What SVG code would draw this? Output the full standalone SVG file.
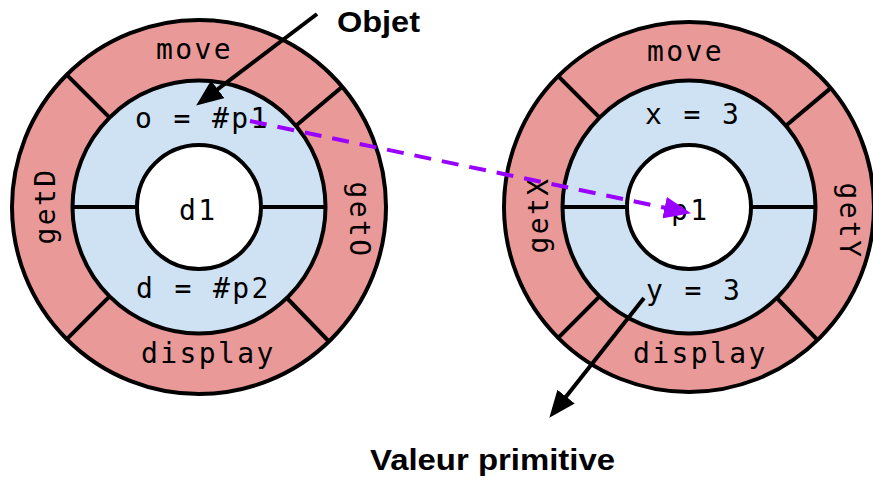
<svg xmlns="http://www.w3.org/2000/svg" width="873" height="481" viewBox="0 0 873 481">
  <style>
    .outer { fill: #ea9999; stroke: #000; stroke-width: 4; }
    .ring { fill: #cfe2f3; stroke: #000; stroke-width: 4; }
    .core { fill: #fff; stroke: #000; stroke-width: 4; }
    .div { stroke: #000; stroke-width: 4; fill: none; }
    .mono { font-family: "DejaVu Sans Mono", "Liberation Mono", monospace; font-size: 28px; letter-spacing: 2.4px; fill: #000; }
    .label { font-family: "Liberation Sans", Arial, sans-serif; font-weight: bold; font-size: 30px; fill: #000; }
    .arrow { stroke: #000; stroke-width: 4; fill: none; }
    .ref { stroke: #9900ff; stroke-width: 4; fill: none; stroke-dasharray: 17 11; }
  </style>
  <defs>
    <marker id="head" markerUnits="userSpaceOnUse" markerWidth="28" markerHeight="22" refX="4" refY="11" orient="auto">
      <path d="M0,0 L27,11 L0,22 z" fill="#000"/>
    </marker>
    <marker id="headPurple" markerUnits="userSpaceOnUse" markerWidth="28" markerHeight="22" refX="4" refY="11" orient="auto">
      <path d="M0,0 L27,11 L0,22 z" fill="#9900ff"/>
    </marker>
  </defs>

  <!-- object d1 -->
  <g id="d1">
    <circle class="outer" cx="199" cy="207" r="187"/>
    <circle class="ring" cx="199" cy="207" r="126.5"/>
    <circle class="core" cx="199" cy="207" r="62"/>
    <line class="div" x1="109.6" y1="117.6" x2="66.8" y2="74.8"/>
    <line class="div" x1="295.9" y1="125.7" x2="342.2" y2="86.8"/>
    <line class="div" x1="286.9" y1="298" x2="329" y2="341.5"/>
    <line class="div" x1="109.6" y1="296.4" x2="66.8" y2="339.2"/>
    <line class="div" x1="72.5" y1="207" x2="137" y2="207"/>
    <line class="div" x1="261" y1="207" x2="325.5" y2="207"/>
    <text class="mono" x="156" y="59">move</text>
    <text class="mono" x="135" y="128">o = #p1</text>
    <text class="mono" x="179" y="220">d1</text>
    <text class="mono" x="136" y="298">d = #p2</text>
    <text class="mono" x="141" y="363">display</text>
    <text class="mono" text-anchor="middle" transform="translate(55,206) rotate(-90)">getD</text>
    <text class="mono" text-anchor="middle" transform="translate(350,220) rotate(90)">getO</text>
  </g>

  <!-- object p1 -->
  <g id="p1">
    <circle class="outer" cx="689" cy="207" r="185"/>
    <circle class="ring" cx="689" cy="207" r="126.5"/>
    <circle class="core" cx="689" cy="207" r="62"/>
    <line class="div" x1="599.6" y1="117.6" x2="558.2" y2="76.2"/>
    <line class="div" x1="785.9" y1="125.7" x2="830.7" y2="88.1"/>
    <line class="div" x1="776.9" y1="298" x2="817.5" y2="340"/>
    <line class="div" x1="599.6" y1="296.4" x2="558.2" y2="337.8"/>
    <line class="div" x1="562.5" y1="207" x2="627" y2="207"/>
    <line class="div" x1="751" y1="207" x2="815.5" y2="207"/>
    <text class="mono" x="647" y="61">move</text>
    <text class="mono" x="645" y="124">x = 3</text>
    <text class="mono" x="671" y="220">p1</text>
    <text class="mono" x="646" y="300">y = 3</text>
    <text class="mono" x="633" y="363">display</text>
    <text class="mono" text-anchor="middle" transform="translate(548,215) rotate(-90)">getX</text>
    <text class="mono" text-anchor="middle" transform="translate(840,221) rotate(90)">getY</text>
  </g>

  <!-- captions -->
  <g id="caption-objet">
    <text class="label" x="337" y="32" textLength="83" lengthAdjust="spacingAndGlyphs">Objet</text>
  </g>
  <g id="caption-valeur">
    <text class="label" x="370" y="470" textLength="245" lengthAdjust="spacingAndGlyphs">Valeur primitive</text>
  </g>

  <!-- connectors -->
  <g id="connectors">
    <line class="arrow" x1="317" y1="14" x2="214.5" y2="91.7" marker-end="url(#head)"/>
    <line class="arrow" x1="644" y1="298" x2="563.6" y2="399.7" marker-end="url(#head)"/>
    <line class="ref" x1="250" y1="121" x2="668.5" y2="208.5" marker-end="url(#headPurple)"/>
  </g>
</svg>
